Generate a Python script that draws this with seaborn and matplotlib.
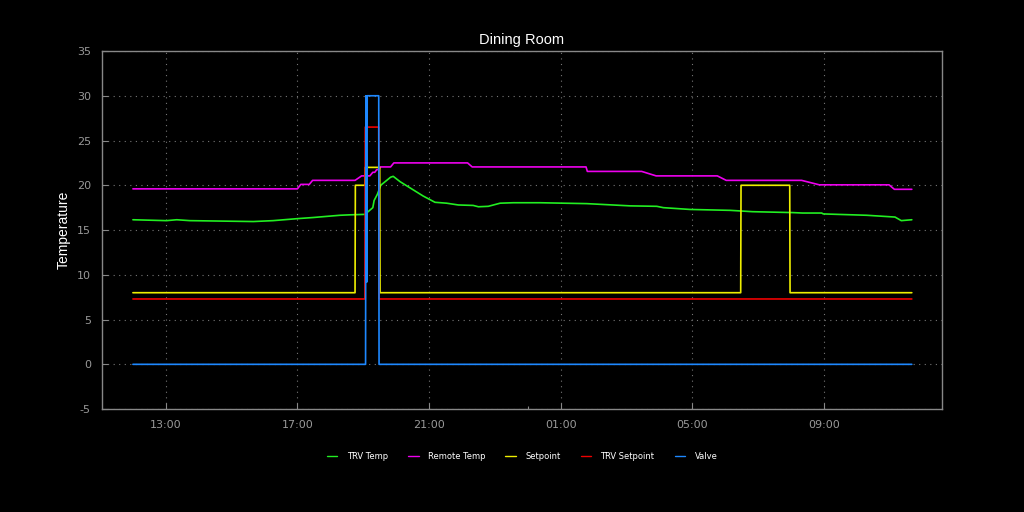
import datetime as dt
import matplotlib
matplotlib.use("Agg")
import matplotlib.pyplot as plt
import matplotlib.dates as mdates
import pandas as pd
import seaborn as sns

# hours since midnight of the first day (values > 24 are the next day)
trv_temp_h = [12.0, 13.02, 13.33, 13.73, 15.66, 16.26, 17.02, 17.48, 18.29, 18.6, 19.05,
              19.13, 19.29, 19.33, 19.43, 19.53, 19.83, 19.91, 20.12, 20.47, 20.82, 21.18,
              21.53, 21.89, 22.34, 22.5, 22.8, 23.16, 23.56, 24.37, 25.79, 27.11, 27.92,
              28.12, 28.93, 30.15, 30.83, 32.05, 32.35, 32.93, 32.98, 34.3, 35.16, 35.35, 35.67]
trv_temp = [16.15, 16.05, 16.15, 16.05, 15.95, 16.05, 16.28, 16.4, 16.65, 16.7, 16.75,
            17.0, 17.5, 18.3, 19.0, 20.0, 20.9, 21.0, 20.4, 19.6, 18.8, 18.1,
            18.0, 17.8, 17.75, 17.6, 17.65, 18.0, 18.05, 18.05, 17.95, 17.7, 17.65,
            17.5, 17.3, 17.2, 17.05, 16.95, 16.9, 16.9, 16.8, 16.65, 16.45, 16.05, 16.15]

remote_h = [12.0, 17.0, 17.1, 17.36, 17.46, 18.75, 18.95, 19.2, 19.29, 19.35, 19.41,
            19.48, 19.51, 19.83, 19.93, 22.17, 22.31, 25.77, 25.81, 27.46, 27.9, 29.76,
            30.03, 32.32, 32.86, 34.98, 35.14, 35.67]
remote_temp = [19.6, 19.6, 20.1, 20.1, 20.55, 20.55, 21.05, 21.05, 21.45, 21.45, 21.75,
               21.75, 22.05, 22.05, 22.5, 22.5, 22.05, 22.05, 21.55, 21.55, 21.05, 21.05,
               20.55, 20.55, 20.05, 20.05, 19.55, 19.55]

setpoint_h = [12.0, 18.75, 18.76, 19.05, 19.06, 19.5, 19.51, 30.47, 30.48, 31.96, 31.97, 35.67]
setpoint = [8, 8, 20, 20, 22, 22, 8, 8, 20, 20, 8, 8]

trv_set_h = [12.0, 19.05, 19.06, 19.47, 19.48, 35.67]
trv_setpoint = [7.3, 7.3, 26.5, 26.5, 7.3, 7.3]

valve_h = [12.0, 19.07, 19.08, 19.11, 19.12, 19.47, 19.48, 35.67]
valve = [0, 0, 30, 9.2, 30, 30, 0, 0]

series_names = ["TRV Temp", "Remote Temp", "Setpoint", "TRV Setpoint", "Valve"]
series_colors = ["#22ee22", "#ee00ee", "#eeee00", "#ee0000", "#1e88ff"]

base = dt.datetime(2023, 11, 14)


def to_time(hours):
    return [base + dt.timedelta(hours=h) for h in hours]


frames = []
for name, hrs, vals in zip(series_names,
                           [trv_temp_h, remote_h, setpoint_h, trv_set_h, valve_h],
                           [trv_temp, remote_temp, setpoint, trv_setpoint, valve]):
    frames.append(pd.DataFrame({"time": to_time(hrs), "value": vals, "series": name}))
df = pd.concat(frames, ignore_index=True)

sns.set_theme(style="dark")
plt.rcParams["font.family"] = ["DejaVu Sans"]
plt.rcParams["axes.unicode_minus"] = False

fig = plt.figure(figsize=(10.24, 5.12), dpi=100, facecolor="black")
ax = fig.add_axes([0.0996, 0.201, 0.8204, 0.6994])
ax.set_facecolor("black")

sns.lineplot(data=df, x="time", y="value", hue="series", hue_order=series_names,
             palette=series_colors, estimator=None, sort=False, linewidth=1.2, ax=ax)

ax.set_ylim(-5, 35)
ax.set_yticks(range(-5, 36, 5))
ax.set_xlim(base + dt.timedelta(hours=11.06), base + dt.timedelta(hours=36.59))
ax.xaxis.set_major_locator(mdates.HourLocator(byhour=[1, 5, 9, 13, 17, 21]))
ax.xaxis.set_major_formatter(mdates.DateFormatter("%H:%M"))
ax.xaxis.set_minor_locator(mdates.HourLocator(byhour=[0]))

ax.grid(True, which="major", color="#777777", linestyle=(0, (1, 4)), linewidth=0.8)
ax.grid(False, which="minor")
for s in ax.spines.values():
    s.set_color("#888888")
    s.set_linewidth(1.0)
ax.tick_params(axis="both", which="major", direction="in", length=4, width=0.8,
               color="#888888", labelcolor="#999999", labelsize=8, pad=8)
ax.tick_params(axis="x", which="minor", direction="in", length=2, width=0.8,
               color="#888888", bottom=True)
ax.tick_params(axis="x", which="major", bottom=True)
ax.tick_params(axis="y", which="major", left=True)

ax.set_xlabel("")
ax.set_ylabel("Temperature", color="white", fontsize=10, family=["Liberation Sans"])
ax.set_title("Dining Room", color="white", fontsize=10.5, family=["Liberation Sans"], pad=5)

leg = ax.legend(loc="upper center", bbox_to_anchor=(0.5, -0.1), ncol=5, frameon=False,
                fontsize=6, labelcolor="white", handlelength=1.3, columnspacing=2.4,
                handletextpad=1.1)
for line in leg.get_lines():
    line.set_linewidth(1.0)

fig.savefig("out.png", dpi=100, facecolor="black")
